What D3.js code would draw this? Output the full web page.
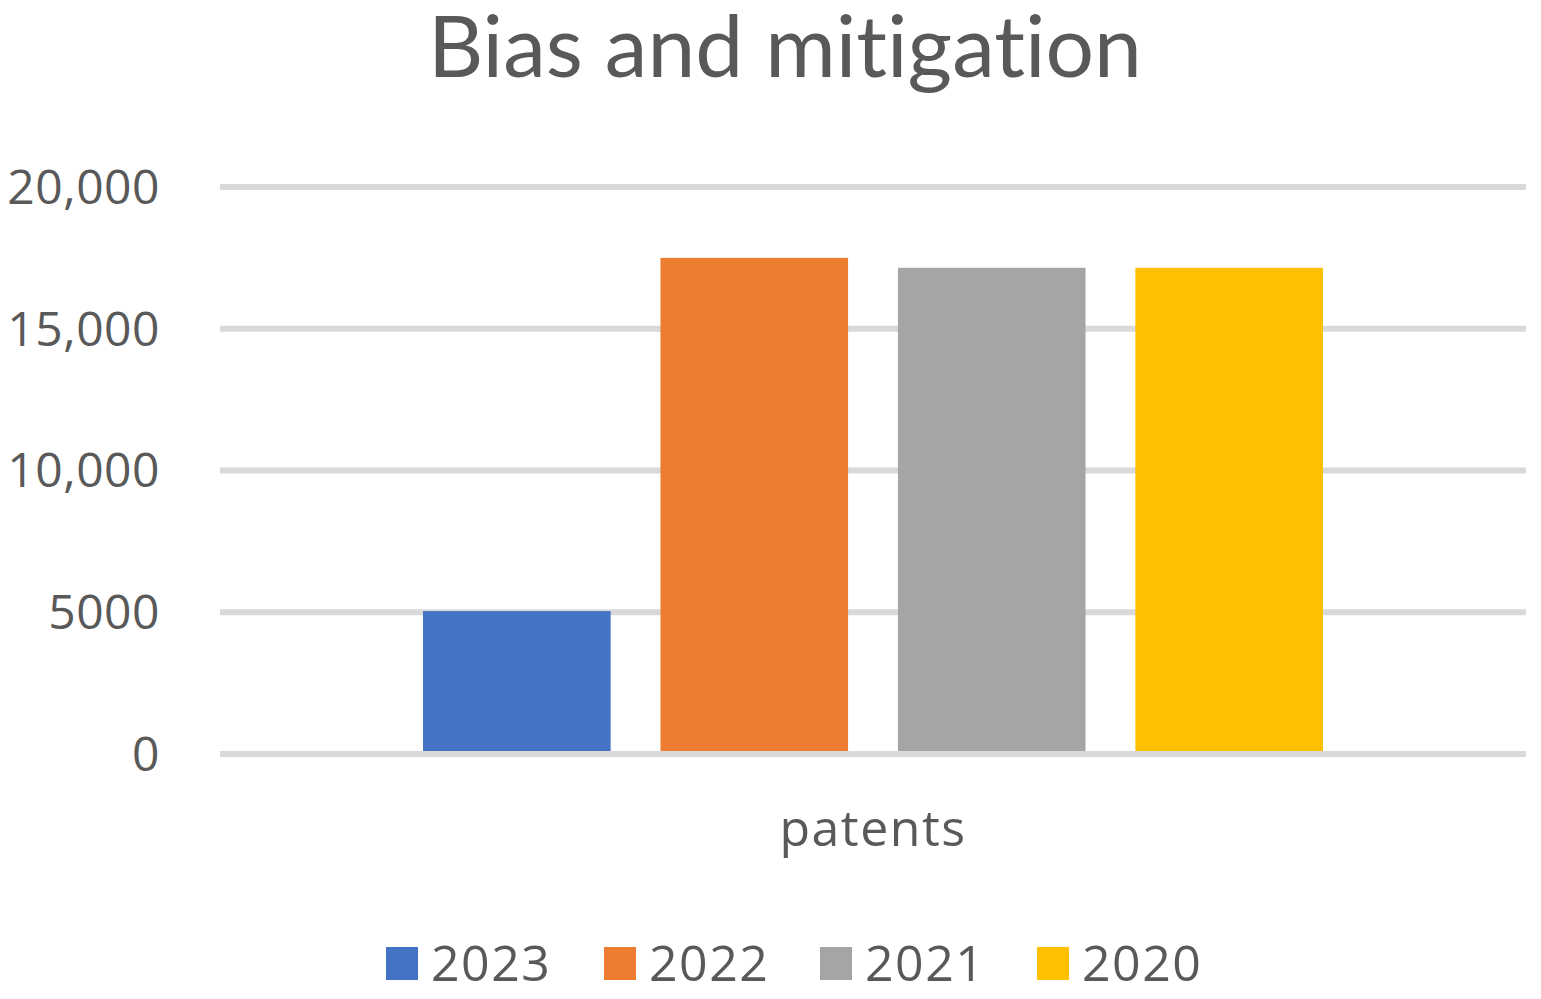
<!DOCTYPE html>
<html><head><meta charset="utf-8">
<script src="https://cdn.jsdelivr.net/npm/d3@7"></script>
<style>html,body{margin:0;padding:0;background:#fff;overflow:hidden}</style>
</head><body>
<svg id="chart" width="1541" height="999"></svg>
<script>
const title = "Bias and mitigation";
const categories = ["patents"];
const seriesNames = ["2023", "2022", "2021", "2020"];
const seriesValues = [5040, 17500, 17150, 17150];
const seriesColors = ["#4472c4", "#ed7d31", "#a5a5a5", "#ffc000"];
const tickValues = [0, 5000, 10000, 15000, 20000];
const tickLabels = ["0", "5000", "10,000", "15,000", "20,000"];

const svg = d3.select("#chart");
const textColor = "#595959";
const font = "'Open Sans', sans-serif";

const plotLeft = 220, plotRight = 1526, plotTop = 187, plotBottom = 754;
const y = d3.scaleLinear().domain([0, 20000]).range([plotBottom, plotTop]);
const x0 = d3.scaleBand().domain(categories).range([plotLeft, plotRight]).paddingOuter(0.2256).paddingInner(0);
const x1 = d3.scaleBand().domain(seriesNames).range([0, x0.bandwidth()]).paddingInner(0.21).paddingOuter(0);

// gridlines
svg.append("g").selectAll("line").data(tickValues).join("line")
  .attr("x1", plotLeft).attr("x2", plotRight)
  .attr("y1", d => y(d)).attr("y2", d => y(d))
  .attr("stroke", "#d9d9d9").attr("stroke-width", 6);

// y tick labels
svg.append("g").selectAll("text").data(tickValues).join("text")
  .attr("x", 160).attr("y", d => y(d)).attr("dy", "0.35em")
  .attr("text-anchor", "end").attr("font-family", font).attr("font-size", 48)
  .attr("letter-spacing", 0.5)
  .attr("fill", textColor).text((d, i) => tickLabels[i]);

// bars
const g = svg.append("g").selectAll("g").data(categories).join("g")
  .attr("transform", d => `translate(${x0(d)},0)`);
g.selectAll("rect").data(seriesNames.map((n, i) => ({n, v: seriesValues[i], c: seriesColors[i]}))).join("rect")
  .attr("x", d => x1(d.n)).attr("width", x1.bandwidth())
  .attr("y", d => y(d.v)).attr("height", d => y(0) - 3 - y(d.v))
  .attr("fill", d => d.c);

// category label
svg.append("g").selectAll("text").data(categories).join("text")
  .attr("x", d => x0(d) + x0.bandwidth() / 2).attr("y", 846)
  .attr("text-anchor", "middle").attr("font-family", font).attr("font-size", 50)
  .attr("letter-spacing", 1.5)
  .attr("fill", textColor).text(d => d);

// title
const tt = svg.append("text").attr("x", 785).attr("y", 77)
  .attr("text-anchor", "middle").attr("font-family", "Lato, sans-serif").attr("font-size", 86)
  .style("font-variant-ligatures", "none")
  .attr("fill", textColor).text(title);
const w = tt.node().getComputedTextLength();
tt.attr("font-size", 86 * 714 / w);

// legend
const legendX = [386, 604, 820, 1037];
const lg = svg.append("g").selectAll("g").data(seriesNames).join("g")
  .attr("transform", (d, i) => `translate(${legendX[i]},0)`);
lg.append("rect").attr("x", 0).attr("y", 947).attr("width", 32).attr("height", 33)
  .attr("fill", (d, i) => seriesColors[i]);
lg.append("text").attr("x", 45).attr("y", 981).attr("font-family", font).attr("font-size", 50)
  .attr("letter-spacing", 1.5)
  .attr("fill", textColor).text(d => d);
</script>
</body></html>
